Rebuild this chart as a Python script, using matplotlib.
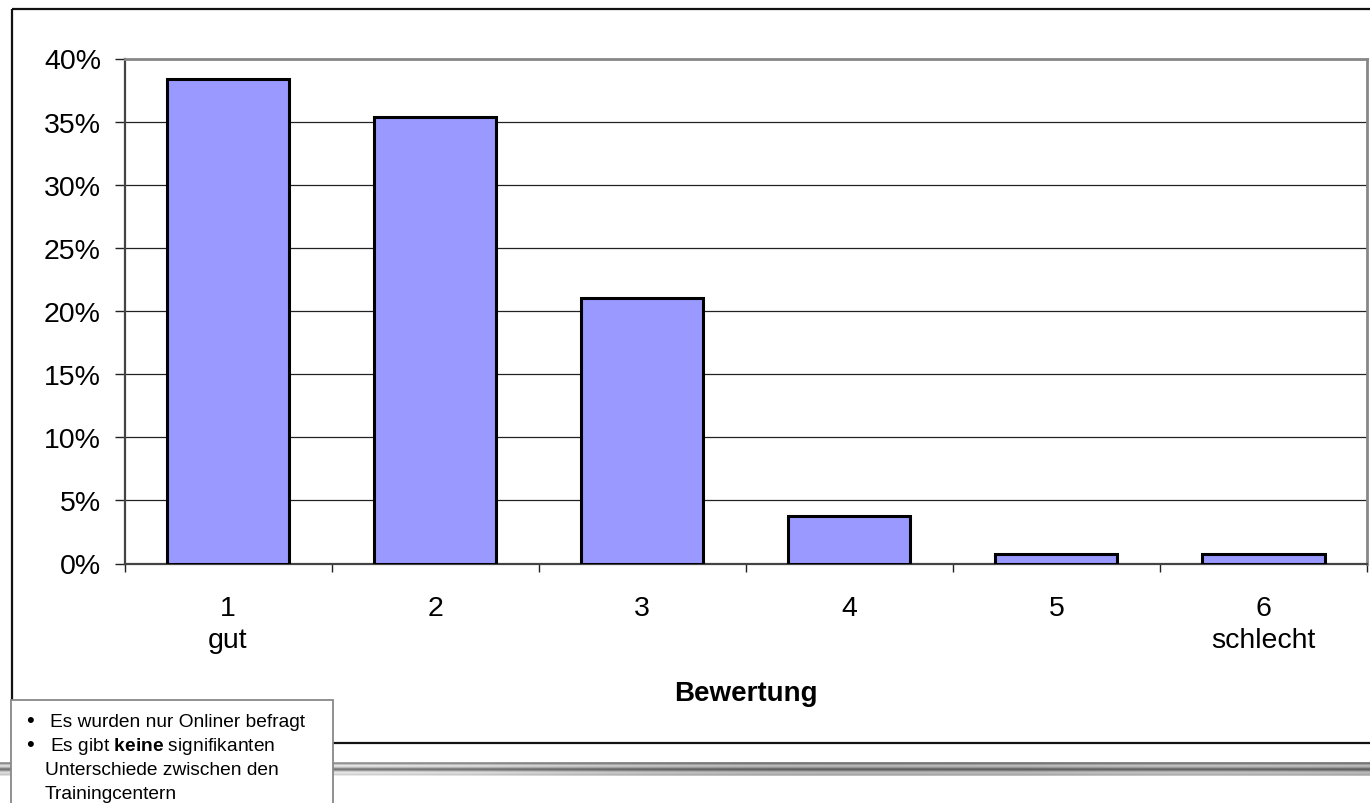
import numpy as np
import matplotlib
matplotlib.use("Agg")
import matplotlib.pyplot as plt
from matplotlib.patches import Rectangle
from matplotlib.ticker import PercentFormatter, FixedLocator

plt.rcParams["font.family"] = ["Liberation Sans", "DejaVu Sans"]
plt.rcParams["mathtext.fontset"] = "custom"
plt.rcParams["mathtext.rm"] = "Liberation Sans"
plt.rcParams["mathtext.bf"] = "Liberation Sans:bold"

# share of answers per rating (in %)
grades = [1, 2, 3, 4, 5, 6]
grade_labels = ["1\ngut", "2", "3", "4", "5", "6\nschlecht"]
shares = [38.35, 35.34, 21.05, 3.76, 0.75, 0.75]
y_ticks = [0, 5, 10, 15, 20, 25, 30, 35, 40]
notes = ["Es wurden nur Onliner befragt",
         r"Es gibt $\bf{keine}$ signifikanten",
         "Unterschiede zwischen den",
         "Trainingcentern"]

W, H = 1370, 804
fig = plt.figure(figsize=(W / 100, H / 100), dpi=100)
fig.patch.set_facecolor("white")

# background layer in pixel coordinates: chart frame and slide stripe
bg = fig.add_axes([0, 0, 1, 1], zorder=0)
bg.set_xlim(0, W)
bg.set_ylim(H, 0)
bg.axis("off")
frame_kw = dict(color="#111111", lw=1.6, solid_capstyle="butt")
bg.plot([12, W], [9.5, 9.5], **frame_kw)
bg.plot([12, 12], [9.5, 744], **frame_kw)
bg.plot([12, W], [744, 744], **frame_kw)

rows = np.array([0.62, 0.55, 0.72, 0.86, 0.82, 0.70, 0.52, 0.45, 0.58, 0.76,
                 0.86, 0.83, 0.78, 0.88])
cols = np.linspace(0, 1, 400)
shade = 1.0 - 0.18 * np.clip((cols - 0.35) / 0.4, 0, 1) + 0.06 * np.sin(cols * 9)
stripe = np.clip(rows[:, None] * shade[None, :], 0, 1)
bg.imshow(stripe, cmap="gray", vmin=0, vmax=1, aspect="auto",
          extent=(0, W, 777.5, 764), interpolation="bilinear")

# bar chart
ax = fig.add_axes([124.5 / W, 1 - 564.5 / H, (1367 - 124.5) / W, (564.5 - 59.5) / H],
                  zorder=2)
ax.set_facecolor("white")
ax.bar(grades, shares, width=0.59, color="#9999FF", edgecolor="black",
       linewidth=2.2, zorder=3)

ax.set_xlim(0.5, 6.5)
ax.set_ylim(0, 40)
ax.set_yticks(y_ticks)
ax.yaxis.set_major_formatter(PercentFormatter(decimals=0))
ax.grid(axis="y", color="#222222", lw=0.9, zorder=1)

ax.set_xticks(grades)
ax.set_xticklabels(grade_labels, linespacing=1.3)
ax.xaxis.set_minor_locator(FixedLocator(np.arange(0.5, 7, 1)))
ax.tick_params(axis="x", which="major", length=0, pad=23, labelsize=20.5)
ax.tick_params(axis="x", which="minor", length=6, width=1, color="#222222",
               direction="out")
ax.tick_params(axis="y", length=7, width=1, color="#222222", pad=10,
               labelsize=20.5)

for side in ("top", "right"):
    ax.spines[side].set_color("#888888")
    ax.spines[side].set_linewidth(2)
for side in ("left", "bottom"):
    ax.spines[side].set_color("#444444")
    ax.spines[side].set_linewidth(1.6)

fig.text(745.5 / W, 1 - 701 / H, "Bewertung", ha="center", va="baseline",
         fontsize=20, fontweight="bold")

# footnote box
fg = fig.add_axes([0, 0, 1, 1], zorder=5)
fg.set_xlim(0, W)
fg.set_ylim(H, 0)
fg.axis("off")
fg.add_patch(Rectangle((11, 700.5), 322, 110, facecolor="white",
                       edgecolor="#888888", lw=1.3))
note_kw = dict(fontsize=13.8, va="baseline", ha="left")
fg.text(26, 727, "\u2022", fontsize=16, va="baseline", ha="left")
fg.text(26, 751, "\u2022", fontsize=16, va="baseline", ha="left")
fg.text(50, 727, notes[0], **note_kw)
fg.text(50, 751, notes[1], **note_kw)
fg.text(45, 775, notes[2], **note_kw)
fg.text(45, 799, notes[3], **note_kw)

fig.savefig("out.png", dpi=100)
